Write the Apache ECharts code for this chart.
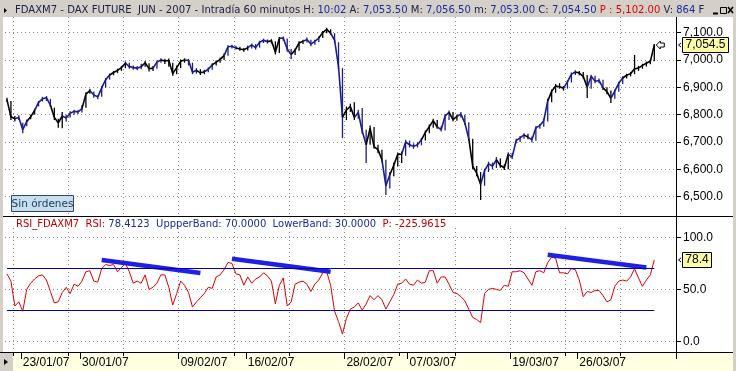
<!DOCTYPE html>
<html><head><meta charset="utf-8">
<script src="https://cdn.jsdelivr.net/npm/echarts@6/dist/echarts.min.js"></script>
<style>html,body{margin:0;padding:0;background:#fff}#c{width:736px;height:371px}</style>
</head><body><div id="c"></div>
<script>
// ---- price bars (60-min, sampled) ----
const closes = [6855,6792,6785,6790,6745,6775,6792,6815,6845,6858,6862,6835,6790,6770,6795,6788,6805,6812,6810,6822,
6875,6888,6872,6865,6898,6928,6945,6954,6962,6972,6988,6976,6972,6970,6975,6990,6968,6970,6992,7000,
6996,6998,6950,6972,6995,7000,6998,6955,6962,6953,6957,6966,6982,6992,7002,7016,7048,7050,7044,7040,
7037,7045,7055,7045,7065,7072,7067,7070,7028,7079,7080,7040,7020,7036,7062,7068,7075,7058,7068,7080,
7100,7112,7098,7073,6975,6790,6817,6830,6790,6808,6740,6690,6750,6683,6672,6635,6540,6580,6615,6655,
6655,6700,6690,6684,6690,6708,6735,6756,6778,6755,6745,6795,6808,6782,6794,6802,6770,6712,6612,6586,
6545,6595,6620,6612,6635,6614,6606,6655,6645,6705,6715,6726,6718,6708,6752,6760,6778,6850,6885,6905,
6902,6897,6920,6948,6956,6952,6940,6900,6940,6922,6925,6898,6884,6860,6886,6915,6934,6944,6950,6968,
6970,6980,6988,6995,7054.5];
const highs = [6862,6850,6795,6798,6770,6782,6800,6822,6850,6865,6868,6858,6825,6785,6810,6800,6812,6818,6816,6835,
6882,6895,6885,6872,6905,6934,6950,6960,6968,6978,6994,6990,6980,6978,6986,6996,6988,6978,6998,7006,
7004,7005,6990,6980,7002,7006,7004,6990,6970,6966,6964,6972,6988,6998,7008,7024,7054,7056,7052,7048,
7044,7052,7060,7058,7070,7078,7075,7076,7068,7084,7086,7078,7040,7042,7068,7074,7082,7074,7074,7086,
7106,7118,7112,7098,7065,6970,6830,6840,6845,6818,6824,6745,6760,6755,6690,6672,6635,6590,6625,6662,
6665,6708,6705,6695,6698,6715,6742,6764,6785,6780,6758,6802,6815,6810,6800,6810,6800,6772,6712,6612,
6590,6602,6628,6625,6645,6640,6618,6662,6660,6712,6722,6732,6730,6720,6758,6766,6786,6858,6892,6912,
6915,6905,6926,6954,6962,6960,6956,6945,6946,6942,6932,6928,6900,6888,6892,6920,6940,6950,6956,7018,
6978,6986,6994,7002,7058];
const lows = [6846,6780,6776,6780,6732,6758,6783,6800,6830,6848,6850,6828,6780,6752,6750,6775,6790,6800,6802,6808,
6825,6876,6862,6856,6865,6898,6928,6944,6952,6960,6970,6968,6964,6962,6966,6975,6958,6960,6968,6990,
6985,6975,6942,6948,6970,6990,6980,6948,6950,6945,6948,6955,6964,6980,6990,7000,7015,7042,7038,7034,
7030,7035,7042,7038,7045,7062,7060,7060,7020,7025,7070,7030,7003,7018,7034,7058,7064,7050,7056,7066,
7080,7098,7092,7062,6965,6714,6780,6810,6780,6785,6730,6623,6690,6675,6660,6625,6506,6530,6575,6610,
6623,6650,6680,6675,6680,6688,6705,6732,6752,6748,6738,6742,6780,6775,6778,6790,6762,6705,6600,6575,
6488,6540,6590,6600,6605,6606,6598,6600,6638,6695,6700,6712,6710,6698,6705,6748,6756,6775,6845,6880,
6895,6888,6895,6918,6945,6944,6932,6861,6895,6915,6915,6890,6875,6843,6858,6884,6912,6932,6940,6948,
6960,6968,6976,6984,6995];
// ---- RSI(14) ----
const rsi = [65,58,34,38,29,50,56,60,63,64,59,48,37,38,47,52,46,55,53,58,
67,68,58,57,70,74,73,74,67,71,75,67,56,58,56,64,50,52,56,64,
64,52,35,46,58,54,47,33,38,42,46,52,51,62,64,69,76,75,65,64,
54,62,56,60,62,66,63,58,36,54,61,34,38,55,57,58,55,48,55,59,
66,67,54,29,19,7,22,31,33,37,30,36,44,40,44,40,31,38,45,55,
56,60,55,54,59,56,57,68,68,56,62,62,55,47,46,43,39,31,23,21,
18,46,50,51,50,49,54,53,67,67,68,66,60,54,67,68,66,76,81,80,
66,66,65,70,69,59,43,48,47,49,49,44,38,40,53,58,59,58,62,70,
61,53,59,64,78.4];
const upperBand = 70, lowerBand = 30;
// hand-drawn divergence lines on RSI: [[index, rsi], [index, rsi]]
const trendLines = [[[24.4,78.3],[49.3,65.9]],[[56.8,79.5],[81.7,67.1]],[[137.2,83.3],[162,71.2]]];
// date labels on the time axis (category index of the first bar of the day)
const dateLabels = ['23/01/07','30/01/07','09/02/07','16/02/07','28/02/07','07/03/07','19/03/07','26/03/07'];
const dateIndex = [4,19,44,61,86,102,128,145];
const priceMin = 6500, priceMax = 7100, priceStep = 100;
const rsiMin = 0, rsiMax = 100, rsiStep = 50;
const N = 170;
const categories = Array.from({length:N}, (_, i) => String(i));

// ---- style ----
const BLUE = '#1c1c8e', BLACK = '#000000';
const blueRanges = [[3,5],[8,11],[15,19],[22,26],[31,34],[38,39],[46,48],[51,52],[56,58],[62,66],[70,72],[76,79],[83,85],
[89,91],[96,97],[101,105],[110,112],[115,117],[121,124],[128,131],[133,137],[142,144],[148,151],[154,156]];
const isBlue = i => blueRanges.some(r => i >= r[0] && i <= r[1]);
const GRIDSTEP = 14, GRIDOFF = 2;
const dotted = {color:'#8a8a8a', width:1, type:[1,3]};
const FONT = 'Liberation Sans';
const TF = 'DejaVu Sans';
const labelMap = {}; dateIndex.forEach((d,k) => labelMap[d] = dateLabels[k]);
const fmtPrice = v => { const [a,b] = v.toFixed(1).split('.'); return a.replace(/\B(?=(\d{3})+(?!\d))/g, ',') + '.' + b; };

// title text fitted to the width it takes in the original window bar
const titlePlain = 'FDAXM7 - DAX FUTURE  JUN - 2007 - Intradía 60 minutos H: 10:02 A: 7,053.50 M: 7,056.50 m: 7,053.00 C: 7,054.50 P : 5,102.00 V: 864 F';
const titleRich = 'FDAXM7 - DAX FUTURE  JUN - 2007 - Intradía 60 minutos H: {b|10:02} A: {b|7,053.50} M: {b|7,056.50} m: {b|7,053.00} C: {b|7,054.50} {r|P : 5,102.00} V: {b|864} F';
const mctx = document.createElement('canvas').getContext('2d');
mctx.font = '11px "' + TF + '"';
const titleSize = Math.min(11, 11 * 690 / mctx.measureText(titlePlain).width);

const L = 5, W = 671;
const option = {
  backgroundColor:'#ffffff',
  animation:false,
  grid:[
    {left:L, width:W, top:32.6, height:164.1},
    {left:L, width:W, top:17, height:199},
    {left:L, width:W, top:237.5, height:103.8},
    {left:L, width:W, top:228, height:124},
    {left:L, width:W, top:340, height:12},
    {left:L, width:W, top:217, height:135}
  ],
  xAxis:[
    {gridIndex:0, type:'category', data:categories, show:false},
    {gridIndex:1, type:'category', data:categories, axisLine:{show:false}, axisTick:{show:false}, axisLabel:{show:false},
      splitLine:{show:true, interval:(i)=> i % GRIDSTEP === GRIDOFF, lineStyle:dotted}},
    {gridIndex:2, type:'category', data:categories, show:false},
    {gridIndex:3, type:'category', data:categories, axisLine:{show:false}, axisTick:{show:false}, axisLabel:{show:false},
      splitLine:{show:true, interval:(i)=> i % GRIDSTEP === GRIDOFF, lineStyle:dotted}},
    {gridIndex:4, type:'category', data:categories, position:'bottom', axisLine:{show:false},
      axisTick:{show:true, length:7, interval:(i)=> labelMap[i] !== undefined, lineStyle:{color:'#000'}},
      axisLabel:{show:true, interval:(i)=> labelMap[i] !== undefined, formatter:(v,i)=> labelMap[i] || '', align:'left',
        margin:5, color:'#000', fontFamily:FONT, fontSize:12}, splitLine:{show:false}},
    {gridIndex:4, type:'category', data:categories, position:'bottom', axisLine:{show:false},
      axisTick:{show:true, length:4, interval:(i)=> i % GRIDSTEP === GRIDOFF, lineStyle:{color:'#000'}},
      axisLabel:{show:false}, splitLine:{show:false}},
    {gridIndex:5, type:'category', data:categories, show:false}
  ],
  yAxis:[
    {gridIndex:0, type:'value', min:priceMin, max:priceMax, interval:priceStep, position:'right',
      axisLine:{show:false}, axisTick:{show:true, length:5, lineStyle:{color:'#000'}},
      axisLabel:{show:true, margin:7, formatter:fmtPrice, color:'#000', fontFamily:FONT, fontSize:12},
      splitLine:{show:true, lineStyle:dotted}},
    {gridIndex:1, type:'value', min:0, max:1, position:'right', axisLine:{show:true, lineStyle:{color:'#000'}},
      axisTick:{show:false}, axisLabel:{show:false}, splitLine:{show:false}},
    {gridIndex:2, type:'value', min:rsiMin, max:rsiMax, interval:rsiStep, position:'right',
      axisLine:{show:false}, axisTick:{show:true, length:5, lineStyle:{color:'#000'}},
      axisLabel:{show:true, margin:7, formatter:v=>v.toFixed(1), color:'#000', fontFamily:FONT, fontSize:12},
      splitLine:{show:true, lineStyle:dotted}},
    {gridIndex:3, type:'value', show:false},
    {gridIndex:4, type:'value', show:false},
    {gridIndex:5, type:'value', min:0, max:1, position:'right', axisLine:{show:true, lineStyle:{color:'#000'}},
      axisTick:{show:false}, axisLabel:{show:false}, splitLine:{show:false}}
  ],
  series:[
    {type:'custom', xAxisIndex:0, yAxisIndex:0, clip:false,
      data: closes.map((c,i)=>[i, c, highs[i], lows[i]]),
      renderItem:(params, api) => {
        const i = api.value(0);
        const c = api.coord([i, api.value(1)]);
        const h = api.coord([i, api.value(2)]);
        const l = api.coord([i, api.value(3)]);
        const col = isBlue(i) ? BLUE : BLACK;
        const ch = [{type:'line', shape:{x1:h[0], y1:h[1], x2:l[0], y2:l[1]}, style:{stroke:col, lineWidth:1.3}}];
        if (i > 0) {
          const p = api.coord([i-1, closes[i-1]]);
          ch.push({type:'line', shape:{x1:p[0], y1:p[1], x2:c[0], y2:c[1]}, style:{stroke:col, lineWidth:1.6}});
        }
        return {type:'group', children:ch};
      }},
    {type:'line', xAxisIndex:2, yAxisIndex:2, data:rsi, symbol:'none', lineStyle:{color:'#e00000', width:1}, z:3,
      markLine:{silent:true, symbol:['none','none'], label:{show:false}, lineStyle:{color:'#0000b0', width:1, type:'solid'},
        data:[[{coord:['0', upperBand]},{coord:[String(rsi.length-1), upperBand]}],
              [{coord:['0', lowerBand]},{coord:[String(rsi.length-1), lowerBand]}]]}},
    ...trendLines.map(t => ({type:'line', xAxisIndex:2, yAxisIndex:2, data:t, symbol:'none', z:4,
      lineStyle:{color:'#1f1fe8', width:4.5, cap:'butt'}}))
  ]
};
const chart = echarts.init(document.getElementById('c'));
chart.setOption(option);

const last = closes.length - 1;
const pp = chart.convertToPixel({gridIndex:0}, [last, closes[last]]);
const rp = chart.convertToPixel({gridIndex:2}, [last, rsi[last]]);
const bx = 682;
const priceY = pp[1], rsiY = rp[1];
chart.setOption({graphic:[
  // title bar
  {type:'rect', shape:{x:0, y:0, width:736, height:17}, style:{fill:'#d4d0c8'}, z:10},
  {type:'polygon', shape:{points:[[4,8],[7,10.5],[4,13]]}, style:{fill:'#000'}, z:11},
  {type:'text', x:15, y:10.5, z:11, style:{fontFamily:TF, fontSize:titleSize, verticalAlign:'middle', fill:'#202050',
    text:titleRich,
    rich:{b:{fill:'#1a2aa0', fontFamily:TF, fontSize:titleSize}, r:{fill:'#e00000', fontFamily:TF, fontSize:titleSize}}}},
  {type:'line', shape:{x1:713, y1:13.5, x2:718, y2:13.5}, style:{stroke:'#000', lineWidth:2}, z:11},
  {type:'rect', shape:{x:720.5, y:7.5, width:6, height:6}, style:{fill:'none', stroke:'#000', lineWidth:1}, z:11},
  {type:'line', shape:{x1:728, y1:7, x2:733, y2:13}, style:{stroke:'#000', lineWidth:1.6}, z:11},
  {type:'line', shape:{x1:733, y1:7, x2:728, y2:13}, style:{stroke:'#000', lineWidth:1.6}, z:11},
  // left / right borders
  {type:'rect', shape:{x:0, y:17, width:3, height:335}, style:{fill:'#d4d0c8'}, z:10},
  {type:'rect', shape:{x:733, y:17, width:3, height:354}, style:{fill:'#d4d0c8'}, z:10},
  // panel separator
  {type:'line', shape:{x1:3, y1:216.5, x2:733, y2:216.5}, style:{stroke:'#000', lineWidth:1}, z:10},
  // bottom axis strip
  {type:'rect', shape:{x:0, y:352, width:736, height:19}, style:{fill:'#ffffe1'}, z:0},
  {type:'line', shape:{x1:0, y1:352.5, x2:733, y2:352.5}, style:{stroke:'#000', lineWidth:1}, z:10},
  {type:'rect', shape:{x:0, y:353, width:13, height:18}, style:{fill:'#d4d0c8'}, z:10},
  {type:'polygon', shape:{points:[[4,359],[8,362],[4,365]]}, style:{fill:'#000'}, z:11},
  // "Sin órdenes" badge
  {type:'rect', shape:{x:11.5, y:195.5, width:62, height:16}, style:{fill:'#c8ddee', stroke:'#2a4a6a', lineWidth:1}, z:10},
  {type:'text', x:42.5, y:204, z:11, style:{text:'Sin órdenes', fontFamily:TF, fontSize:10.5, align:'center', verticalAlign:'middle', fill:'#1a3a5a'}},
  // RSI header
  {type:'text', x:16, y:224, z:11, style:{fontFamily:TF, fontSize:10, verticalAlign:'middle', fill:'#c00000',
    text:'RSI_FDAXM7  RSI: {n|78.4123}  {n|UppperBand: 70.0000}  {n|LowerBand: 30.0000}  P: -225.9615',
    rich:{n:{fill:'#1a2aa0', fontFamily:TF, fontSize:10}}}},
  // last price marker
  {type:'polygon', shape:{points:[[pp[0]+2,priceY],[pp[0]+6,priceY-4],[pp[0]+6,priceY-2],[pp[0]+10,priceY-2],[pp[0]+10,priceY+2],[pp[0]+6,priceY+2],[pp[0]+6,priceY+4]]},
    style:{fill:'#fff', stroke:'#000', lineWidth:1}, z:12},
  {type:'polyline', shape:{points:[[681,priceY-2],[678.5,priceY],[681,priceY+2]]}, style:{stroke:'#000', lineWidth:1}, z:12},
  {type:'rect', shape:{x:bx+0.5, y:Math.round(priceY)-7.5, width:46, height:15}, style:{fill:'#ffffa8', stroke:'#000', lineWidth:1}, z:12},
  {type:'text', x:bx+23.5, y:Math.round(priceY), z:13, style:{text:fmtPrice(closes[last]), fontFamily:FONT, fontSize:12, align:'center', verticalAlign:'middle', fill:'#000'}},
  {type:'polyline', shape:{points:[[681,rsiY-2],[678.5,rsiY],[681,rsiY+2]]}, style:{stroke:'#000', lineWidth:1}, z:12},
  {type:'rect', shape:{x:bx+0.5, y:Math.round(rsiY)-7.5, width:29, height:15}, style:{fill:'#ffffa8', stroke:'#000', lineWidth:1}, z:12},
  {type:'text', x:bx+15, y:Math.round(rsiY), z:13, style:{text:rsi[last].toFixed(1), fontFamily:FONT, fontSize:12, align:'center', verticalAlign:'middle', fill:'#000'}}
]});
</script></body></html>
